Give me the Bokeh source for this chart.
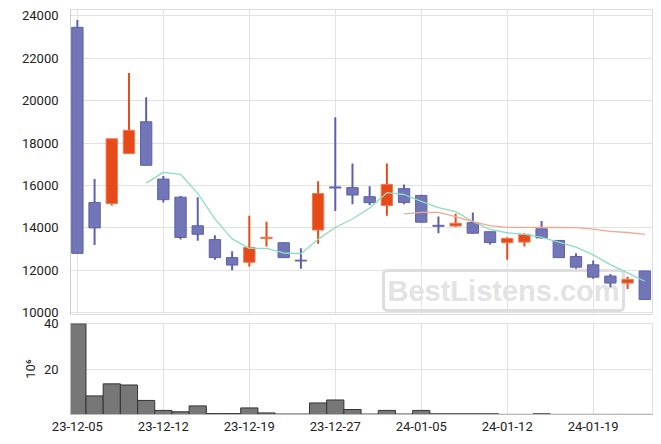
import pandas as pd
from bokeh.plotting import figure
from bokeh.models import Range1d, FixedTicker, ColumnDataSource, Label
from bokeh.layouts import column
from bokeh.embed import file_html
from bokeh.resources import INLINE

dates = ["23-12-05", "23-12-06", "23-12-07", "23-12-08", "23-12-11", "23-12-12",
         "23-12-13", "23-12-14", "23-12-15", "23-12-18", "23-12-19", "23-12-20",
         "23-12-21", "23-12-22", "23-12-26", "23-12-27", "23-12-28", "24-01-02",
         "24-01-03", "24-01-04", "24-01-05", "24-01-08", "24-01-09", "24-01-10",
         "24-01-11", "24-01-12", "24-01-15", "24-01-16", "24-01-17", "24-01-18",
         "24-01-19", "24-01-22", "24-01-23", "24-01-24"]
opens = [23450, 15200, 15150, 17500, 19000, 16300, 15450, 14100, 13450, 12600,
         12380, 13500, 13300, 12480, 13900, 15930, 15900, 15470, 15050, 15850,
         15530, 14120, 14090, 14250, 13820, 13300, 13330, 13960, 13410, 12650,
         12260, 11730, 11400, 11970]
highs = [23800, 16300, 18200, 21300, 20150, 16450, 15500, 15450, 13650, 12900,
         14570, 14290, 13320, 13040, 16200, 19210, 17030, 15960, 17030, 16040,
         15560, 14540, 14670, 14720, 13830, 13560, 13750, 14330, 13420, 12800,
         12460, 11830, 11700, 11980]
lows = [12800, 13200, 15050, 17500, 16950, 15200, 13450, 13400, 12500, 12000,
        12180, 13120, 12580, 12070, 13250, 14800, 15110, 15080, 14570, 15110,
        14250, 13750, 14040, 13720, 13220, 12500, 13120, 13500, 12580, 12080,
        11610, 11200, 11120, 10620]
closes = [12800, 14000, 18200, 18600, 16950, 15330, 13550, 13700, 12600, 12250,
          13080, 13560, 12600, 12440, 15620, 15880, 15550, 15190, 16050, 15200,
          14270, 14080, 14220, 13750, 13310, 13500, 13690, 13530, 12600, 12150,
          11680, 11400, 11570, 10630]
volumes_m = [40.0, 8.2, 13.5, 13.0, 6.2, 1.8, 1.2, 3.8, 0.4, 0.4,
             2.9, 0.7, 0.2, 0.2, 5.1, 6.4, 2.2, 0.2, 1.8, 0.2,
             1.8, 0.3, 0.3, 0.3, 0.3, 0.05, 0.05, 0.3, 0.05, 0.05,
             0.05, 0.05, 0.05, 0.05]
price_ticks = [10000, 12000, 14000, 16000, 18000, 20000, 22000, 24000]
volume_ticks = [20, 40]
date_tick_step = 5

idx = list(range(len(dates)))
close_s = pd.Series(closes, dtype=float)
ma5 = close_s.rolling(5).mean().tolist()
ma20 = close_s.rolling(20).mean().tolist()

UP = "#e64a19"
DOWN = "#7275b6"
DOWN_LINE = "#5d60ad"

up_i = [i for i in idx if closes[i] >= opens[i]]
dn_i = [i for i in idx if closes[i] < opens[i]]

def src(ids):
    return ColumnDataSource(dict(
        x=ids,
        top=[max(opens[i], closes[i]) for i in ids],
        bottom=[min(opens[i], closes[i]) for i in ids],
        high=[highs[i] for i in ids],
        low=[lows[i] for i in ids],
    ))

up_src = src(up_i)
dn_src = src(dn_i)

x_range = Range1d(-0.4, 33.45)
FONT = "Roboto"

p = figure(width=658, height=318, x_range=x_range, y_range=Range1d(9920, 24290),
           output_backend="svg", toolbar_location=None,
           min_border_left=70, min_border_right=6, min_border_top=9, min_border_bottom=4)
p.xaxis.visible = False
p.xgrid.ticker = FixedTicker(ticks=idx[::date_tick_step])
p.yaxis.ticker = FixedTicker(ticks=price_ticks)
p.grid.grid_line_color = "#e2e2e2"
p.outline_line_color = "#dddddd"
p.yaxis.axis_line_color = "#cccccc"
p.yaxis.major_tick_line_color = None
p.yaxis.minor_tick_line_color = None
p.yaxis.major_label_text_font = FONT
p.yaxis.major_label_text_font_size = "13px"
p.yaxis.major_label_text_color = "#222222"
p.yaxis.major_label_standoff = 6

wm = Label(x=313, y=4, x_units="screen", y_units="screen", text="BestListens.com",
           text_font="Liberation Sans", text_font_style="bold", text_font_size="29px",
           text_color="#e3e3e3", border_line_color="#dedede", border_line_width=3,
           padding=4, border_radius=4, level="underlay")
p.add_layout(wm)

p.segment(x0="x", y0="low", x1="x", y1="high", source=up_src, line_color=UP, line_width=2)
p.segment(x0="x", y0="low", x1="x", y1="high", source=dn_src, line_color=DOWN_LINE, line_width=2)
p.vbar(x="x", top="top", bottom="bottom", width=0.66, source=up_src,
       fill_color=UP, line_color="#ee7a50", line_width=1)
p.vbar(x="x", top="top", bottom="bottom", width=0.66, source=dn_src,
       fill_color=DOWN, line_color=DOWN_LINE, line_width=1)

p.line(idx, ma5, line_color="#8edcc0", line_width=1.3)
p.line(idx, ma20, line_color="#f2a88e", line_width=1.3)

v = figure(width=658, height=122, x_range=x_range, y_range=Range1d(0, 40.1),
           output_backend="svg", toolbar_location=None,
           min_border_left=70, min_border_right=6, min_border_top=5, min_border_bottom=26)
v.vbar(x=idx, top=volumes_m, width=1, fill_color="#777777", line_color="#333333", line_width=1)
v.xaxis.ticker = FixedTicker(ticks=idx[::date_tick_step])
v.xaxis.major_label_overrides = {i: dates[i] for i in idx[::date_tick_step]}
v.yaxis.ticker = FixedTicker(ticks=volume_ticks)
v.xgrid.ticker = FixedTicker(ticks=idx[::date_tick_step])
v.grid.grid_line_color = "#e2e2e2"
v.outline_line_color = "#dddddd"
for ax in (v.xaxis, v.yaxis):
    ax.axis_line_color = "#bbbbbb"
    ax.major_tick_line_color = None
    ax.minor_tick_line_color = None
    ax.major_label_text_font = FONT
    ax.major_label_text_font_size = "13px"
    ax.major_label_text_color = "#222222"
v.xaxis.major_label_standoff = 1
v.yaxis.major_label_standoff = 6
v.yaxis.axis_label = "10⁶"
v.yaxis.axis_label_text_font = FONT
v.yaxis.axis_label_text_font_size = "13px"
v.yaxis.axis_label_text_font_style = "normal"
v.yaxis.axis_label_text_color = "#222222"
v.yaxis.axis_label_standoff = 3

layout = column(p, v, spacing=0)
open("out.html", "w").write(file_html(layout, INLINE))
